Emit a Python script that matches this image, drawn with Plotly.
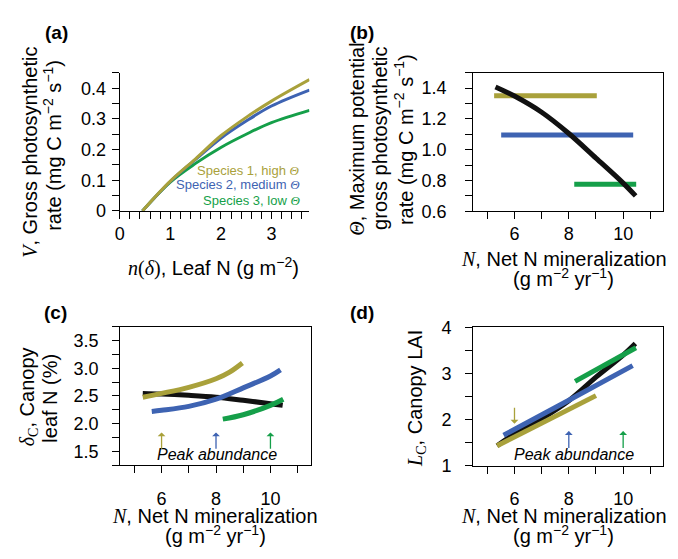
import plotly.graph_objects as go

W, H = 678, 559
OFF = 8                      # default page body margin of the html page
FW, FH = W - 2 * OFF, H - 2 * OFF
FONT = "Liberation Sans"
SERIF = "Liberation Serif"

OLIVE = "#A9A13B"
BLUE = "#3E63B2"
GREEN = "#159F49"
BLACK = "#111111"

# ---------------- Panel (a): V vs leaf N ----------------
leaf_n = [0.45, 1.0, 1.5, 2.0, 2.5, 3.0, 3.75]
v_species1 = [0.0, 0.097, 0.170, 0.245, 0.305, 0.358, 0.428]
v_species2 = [0.0, 0.096, 0.168, 0.237, 0.293, 0.342, 0.394]
v_species3 = [0.0, 0.094, 0.155, 0.207, 0.250, 0.288, 0.328]

# ---------------- Panel (b): Theta vs N mineralization ----------------
n_comm_b = [5.30, 6.0, 7.0, 8.0, 9.0, 10.0, 10.46]
theta_comm = [1.407, 1.348, 1.243, 1.105, 0.945, 0.783, 0.700]
n_sp1_b = [5.25, 9.03]
n_sp2_b = [5.51, 10.37]
n_sp3_b = [8.20, 10.48]
theta_sp1 = [1.35, 1.35]
theta_sp2 = [1.095, 1.095]
theta_sp3 = [0.775, 0.775]

# ---------------- Panel (c): canopy leaf N ----------------
n_comm_c = [5.31, 6.0, 7.0, 8.0, 9.0, 10.0, 10.45]
leafn_comm = [2.545, 2.535, 2.51, 2.476, 2.42, 2.36, 2.33]
n_sp1_c = [5.31, 6.0, 7.0, 8.0, 8.5, 8.97]
leafn_sp1 = [2.476, 2.545, 2.655, 2.81, 2.93, 3.095]
n_sp2_c = [5.64, 6.0, 7.0, 8.0, 9.0, 10.0, 10.37]
leafn_sp2 = [2.22, 2.24, 2.31, 2.44, 2.645, 2.86, 2.97]
n_sp3_c = [8.25, 9.0, 10.0, 10.47]
leafn_sp3 = [2.08, 2.16, 2.33, 2.44]

# ---------------- Panel (d): canopy LAI ----------------
n_comm_d = [5.36, 6.0, 7.0, 8.0, 9.0, 10.0, 10.45]
lai_comm = [1.43, 1.69, 2.02, 2.41, 2.92, 3.40, 3.65]
n_sp1_d = [5.36, 9.0]
lai_sp1 = [1.43, 2.52]
n_sp2_d = [5.6, 8.0, 10.35]
lai_sp2 = [1.66, 2.42, 3.17]
n_sp3_d = [8.23, 10.47]
lai_sp3 = [2.83, 3.56]

# peak abundance of each species (N mineralization)
peak_n = [6, 8, 10]
peak_colors = [OLIVE, BLUE, GREEN]

x_ticks_n = [6, 8, 10]


def px(x):
    return (x - OFF) / FW


def py(y):
    return 1 - (y - OFF) / FH


def serif(s):
    return f'<span style="font-family:{SERIF}">{s}</span>'


fig = go.Figure()

# Panel (a)
for yv, col in [(v_species3, GREEN), (v_species2, BLUE), (v_species1, OLIVE)]:
    fig.add_trace(go.Scatter(x=leaf_n, y=yv, mode="lines",
                             line=dict(color=col, width=3, shape="spline"),
                             xaxis="x", yaxis="y", hoverinfo="skip"))

# Panel (b)
for xs, ys, col in [(n_sp1_b, theta_sp1, OLIVE), (n_sp2_b, theta_sp2, BLUE),
                    (n_sp3_b, theta_sp3, GREEN)]:
    fig.add_trace(go.Scatter(x=xs, y=ys, mode="lines",
                             line=dict(color=col, width=5),
                             xaxis="x2", yaxis="y2", hoverinfo="skip"))
fig.add_trace(go.Scatter(x=n_comm_b, y=theta_comm, mode="lines",
                         line=dict(color=BLACK, width=5, shape="spline"),
                         xaxis="x2", yaxis="y2", hoverinfo="skip"))

# Panel (c)
fig.add_trace(go.Scatter(x=n_comm_c, y=leafn_comm, mode="lines",
                         line=dict(color=BLACK, width=5, shape="spline"),
                         xaxis="x3", yaxis="y3", hoverinfo="skip"))
for xs, ys, col in [(n_sp1_c, leafn_sp1, OLIVE), (n_sp2_c, leafn_sp2, BLUE),
                    (n_sp3_c, leafn_sp3, GREEN)]:
    fig.add_trace(go.Scatter(x=xs, y=ys, mode="lines",
                             line=dict(color=col, width=5, shape="spline"),
                             xaxis="x3", yaxis="y3", hoverinfo="skip"))

# Panel (d)
fig.add_trace(go.Scatter(x=n_comm_d, y=lai_comm, mode="lines",
                         line=dict(color=BLACK, width=5, shape="spline"),
                         xaxis="x4", yaxis="y4", hoverinfo="skip"))
for xs, ys, col in [(n_sp1_d, lai_sp1, OLIVE), (n_sp3_d, lai_sp3, GREEN),
                    (n_sp2_d, lai_sp2, BLUE)]:
    fig.add_trace(go.Scatter(x=xs, y=ys, mode="lines",
                             line=dict(color=col, width=5, shape="spline"),
                             xaxis="x4", yaxis="y4", hoverinfo="skip"))


def axis(domain, rng, anchor, mirror, tickvals=None, dtick=None, minor_dtick=None,
         tickformat=None, standoff=0):
    d = dict(domain=domain, range=rng, anchor=anchor, showline=True,
             linecolor="black", linewidth=1.3, mirror=mirror, ticks="outside",
             ticklen=7, tickwidth=1.3, tickcolor="black", showgrid=False,
             zeroline=False, tickfont=dict(family=FONT, size=18, color="black"),
             ticklabelstandoff=standoff)
    if tickvals is not None:
        d["tickmode"] = "array"
        d["tickvals"] = tickvals
    if dtick is not None:
        d["dtick"] = dtick
        d["tick0"] = 0
    if minor_dtick is not None:
        d["minor"] = dict(ticks="outside", ticklen=7, tickwidth=1.3,
                          tickcolor="black", dtick=minor_dtick, tick0=0,
                          showgrid=False)
    if tickformat:
        d["tickformat"] = tickformat
    return d


layout = dict(
    width=FW, height=FH, autosize=False,
    margin=dict(l=0, r=0, t=0, b=0),
    paper_bgcolor="white", plot_bgcolor="white",
    showlegend=False,
    font=dict(family=FONT, color="black"),
)

layout["xaxis"] = axis([px(115.5), px(306.7)], [0, 3.75], "y", False,
                       dtick=1, minor_dtick=0.2, standoff=-1)
layout["yaxis"] = axis([py(208.3), py(65)], [0, 0.45], "x", False,
                       tickvals=[0, 0.1, 0.2, 0.3, 0.4], minor_dtick=0.05, standoff=2)
layout["xaxis2"] = axis([px(471.7), px(663.3)], [4.48, 11.48], "y2", True,
                        tickvals=x_ticks_n, minor_dtick=1, standoff=-1)
layout["yaxis2"] = axis([py(208.7), py(64.7)], [0.6, 1.5], "x2", True,
                        tickvals=[0.6, 0.8, 1.0, 1.2, 1.4], minor_dtick=0.1,
                        tickformat=".1f", standoff=15)
layout["xaxis3"] = axis([px(116), px(308)], [4.48, 11.48], "y3", True,
                        tickvals=x_ticks_n, minor_dtick=1, standoff=10)
layout["yaxis3"] = axis([py(472.2), py(328.5)], [1.25, 3.75], "x3", True,
                        tickvals=[1.5, 2.0, 2.5, 3.0, 3.5], minor_dtick=0.25,
                        tickformat=".1f", standoff=10)
layout["xaxis4"] = axis([px(471.7), px(663.3)], [4.48, 11.48], "y4", True,
                        tickvals=x_ticks_n, minor_dtick=1, standoff=10)
layout["yaxis4"] = axis([py(472.7), py(329.3)], [1, 4], "x4", True,
                        tickvals=[1, 2, 3, 4], minor_dtick=0.5, standoff=10)

ann = []
TS = 20  # axis-title font size


def text(x, y, s, size=TS, angle=0, color="black", xanchor="center", **kw):
    ann.append(dict(x=px(x), y=py(y), xref="paper", yref="paper", text=s,
                    showarrow=False, textangle=angle, xanchor=xanchor,
                    yanchor="middle", font=dict(family=FONT, size=size, color=color),
                    **kw))


# Panel labels
for lab, (x, y) in zip(["(a)", "(b)", "(c)", "(d)"],
                       [(52, 23), (360, 23), (51.3, 314), (360, 314)]):
    text(x, y, f"<b>{lab}</b>", size=19)

# Y titles
text(25, 147, serif("<i>V</i>") + ", Gross photosynthetic", angle=-90)
text(47, 140, "rate (mg C m<sup>−2</sup> s<sup>−1</sup>)", angle=-90)
text(355, 134, serif("<i>Θ</i>") + ", Maximum potential", angle=-90)
text(378.3, 133, "gross photosynthetic", angle=-90)
text(401.7, 134, "rate (mg C m<sup>−2</sup> s<sup>−1</sup>)", angle=-90)
text(23.3, 401.5, serif("<i>δ</i><sub>C</sub>") + ", Canopy", angle=-90)
text(45, 402.5, "leaf N (%)", angle=-90)
text(415, 402.5, serif("<i>L</i><sub>C</sub>") + ", Canopy LAI", angle=-90)

# X titles
text(210, 266.7, serif("<i>n</i>(<i>δ</i>)") + ", Leaf N (g m<sup>−2</sup>)")
for cx, y1 in [(563, 258.3), (212, 525), (563, 525)]:
    text(cx, y1, serif("<i>N</i>") + ", Net N mineralization")
    text(cx, y1 + 19.5, "(g m<sup>−2</sup> yr<sup>−1</sup>)")

# Legend in (a)
for lab, col, y in [("Species 1, high ", OLIVE, 166), ("Species 2, medium ", BLUE, 181),
                    ("Species 3, low ", GREEN, 197)]:
    text(299.3, y, lab + serif("<i>Θ</i>"), size=13, color=col, xanchor="right")

# Peak abundance labels
ann.append(dict(x=8.03, y=1.44, xref="x3", yref="y3", text="<i>Peak abundance</i>",
                showarrow=False, font=dict(family=FONT, size=16, color="black")))
ann.append(dict(x=8.18, y=1.25, xref="x4", yref="y4", text="<i>Peak abundance</i>",
                showarrow=False, font=dict(family=FONT, size=16, color="black")))

# Arrows (c)
for n, col in zip(peak_n, peak_colors):
    ann.append(dict(x=n, y=1.84, ax=n, ay=1.52, xref="x3", yref="y3", axref="x3",
                    ayref="y3", text="", showarrow=True, arrowhead=1, arrowsize=1,
                    arrowwidth=1.3, arrowcolor=col, standoff=0, startstandoff=0))
# Arrows (d)
arrows_d = [(peak_n[0], 1.91, 2.29, OLIVE), (peak_n[1], 1.75, 1.35, BLUE),
            (peak_n[2], 1.75, 1.35, GREEN)]
for n, head, tail, col in arrows_d:
    ann.append(dict(x=n, y=head, ax=n, ay=tail, xref="x4", yref="y4", axref="x4",
                    ayref="y4", text="", showarrow=True, arrowhead=1, arrowsize=1,
                    arrowwidth=1.3, arrowcolor=col, standoff=0, startstandoff=0))

layout["annotations"] = ann
fig.update_layout(**layout)
fig.write_html("out.html")
